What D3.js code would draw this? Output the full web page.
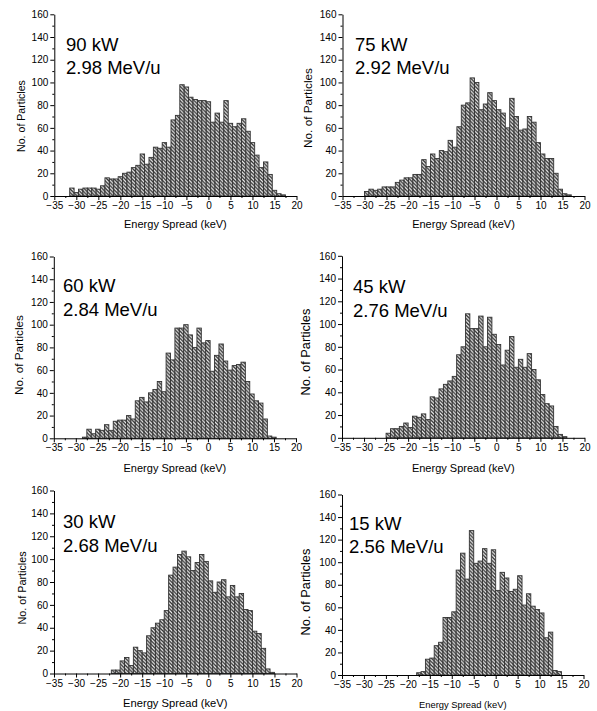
<!DOCTYPE html>
<html><head><meta charset="utf-8">
<script src="https://cdn.jsdelivr.net/npm/d3@7"></script>
<style>body{margin:0;background:#fff}svg{display:block;font-family:"Liberation Sans",Arial,sans-serif}</style>
</head><body><svg id="c" width="597" height="711"></svg>
<script>
// ---- data ----
const powers = ["90 kW", "75 kW", "60 kW", "45 kW", "30 kW", "15 kW"];
const energies = ["2.98 MeV/u", "2.92 MeV/u", "2.84 MeV/u", "2.76 MeV/u", "2.68 MeV/u", "2.56 MeV/u"];
const binWidth = 1; // keV
const binStarts = [-31.5, -30, -28.5, -25, -22, -18]; // left edge of first bin (keV)
const counts90 = [7,3,6,7,7,7,6,9,16,15,15,17,20,21,25,27,37,28,34,43,42,47,43,67,71,98,96,87,85,84,84,83,65,73,65,84,64,61,64,68,57,47,36,25,30,19,5,2,1];
const counts75 = [4,6,5,6,8,8,8,12,14,16,16,19,19,32,26,37,33,40,39,49,43,61,80,82,104,100,76,81,91,84,76,73,60,86,70,58,59,70,65,47,37,33,33,20,6,2,1];
const counts60 = [1,8,4,8,7,12,7,15,16,16,20,17,33,36,32,40,43,50,41,75,69,97,97,100,91,80,97,84,86,59,73,83,68,60,64,65,67,50,39,33,31,17,2,1];
const counts45 = [4,8,8,10,13,9,19,18,21,16,36,35,43,47,50,54,73,80,109,96,96,107,80,106,91,82,64,77,89,62,69,62,74,60,51,38,30,28,10,3,1];
const counts30 = [3,3,11,14,7,23,20,18,33,40,44,47,55,86,93,104,107,102,90,97,104,98,81,71,80,82,67,77,67,70,56,55,37,35,22,4,1];
const counts15 = [2,3,14,15,26,29,51,51,56,93,108,85,128,99,101,112,99,111,75,91,86,74,76,88,62,72,61,58,55,33,38,4,3];
const seriesCounts = [counts90, counts75, counts60, counts45, counts30, counts15];
const xTicks = [-35,-30,-25,-20,-15,-10,-5,0,5,10,15,20];
const yTicks = [0,20,40,60,80,100,120,140,160];
const xLabel = "Energy Spread (keV)";
const yLabel = "No. of Particles";

// ---- layout ----
const layouts = [
  {x0:54.3, x1:296.5, y0:196, y1:14.3, yl:{x:22, y:116, s:10.6}, xl:{y:228, s:11}, t:{x:66, y1:51, y2:74}},
  {x0:342.5, x1:584.5, y0:196, y1:14.3, yl:{x:309, y:108, s:11.8}, xl:{y:228, s:11}, t:{x:355, y1:51, y2:74}},
  {x0:53.8, x1:296, y0:438.3, y1:256.5, yl:{x:20, y:355, s:11.8}, xl:{y:472, s:11}, t:{x:63, y1:292, y2:316}},
  {x0:342, x1:584.5, y0:437.8, y1:255.8, yl:{x:307, y:352, s:12.8}, xl:{y:472, s:11}, t:{x:353, y1:293, y2:317}},
  {x0:54, x1:296.5, y0:673.5, y1:490.5, yl:{x:23, y:588, s:10.8}, xl:{y:707, s:11.2}, t:{x:63, y1:528, y2:552}},
  {x0:342, x1:583.5, y0:675, y1:494.5, yl:{x:307, y:592, s:12.8}, xl:{y:708, s:9.4}, t:{x:349, y1:530, y2:553}}
];

const svg = d3.select("#c");
const defs = svg.append("defs");
const pat = defs.append("pattern").attr("id","hatch").attr("patternUnits","userSpaceOnUse")
  .attr("width",3.6).attr("height",3.6);
pat.append("rect").attr("width",3.6).attr("height",3.6).attr("fill","#f4f4f4");
pat.append("path").attr("d","M-1,-1 L4.6,4.6 M-1,2.6 L1,4.6 M2.6,-1 L4.6,1")
  .attr("stroke","#2a2a2a").attr("stroke-width",1.3);

seriesCounts.forEach((counts, i) => {
  const L = layouts[i];
  const x = d3.scaleLinear().domain([-35, 20]).range([L.x0, L.x1]);
  const y = d3.scaleLinear().domain([0, 160]).range([L.y0, L.y1]);
  const g = svg.append("g");
  const bins = counts.map((c, k) => ({lo: binStarts[i] + k*binWidth, hi: binStarts[i] + (k+1)*binWidth, c}));

  g.selectAll("rect.bar").data(bins).enter().append("rect").attr("class","bar")
    .attr("x", d => x(d.lo)).attr("width", d => x(d.hi) - x(d.lo))
    .attr("y", d => y(d.c)).attr("height", d => y(0) - y(d.c))
    .attr("fill","url(#hatch)").attr("stroke","#333").attr("stroke-width",0.9);

  // x axis
  const xa = g.append("g").attr("transform",`translate(0,${L.y0})`)
    .call(d3.axisBottom(x).tickValues(xTicks).tickSize(4).tickPadding(2).tickSizeOuter(0));
  const xm = g.append("g").attr("transform",`translate(0,${L.y0})`)
    .call(d3.axisBottom(x).tickValues(d3.range(-32.5, 20, 5)).tickSize(2).tickFormat("").tickSizeOuter(0));
  xm.select(".domain").remove();
  // y axis
  const ya = g.append("g").attr("transform",`translate(${L.x0},0)`)
    .call(d3.axisLeft(y).tickValues(yTicks).tickSize(4).tickPadding(2).tickSizeOuter(0));
  const ym = g.append("g").attr("transform",`translate(${L.x0},0)`)
    .call(d3.axisLeft(y).tickValues(d3.range(10, 160, 20)).tickSize(2).tickFormat("").tickSizeOuter(0));
  ym.select(".domain").remove();
  [xa, ya, xm, ym].forEach(a => {
    a.selectAll("path,line").attr("stroke","#000").attr("stroke-width",1);
    a.selectAll("text").attr("font-family","Liberation Sans, Arial, sans-serif").attr("font-size",10).attr("fill","#000");
  });

  g.append("text").attr("x", (L.x0 + L.x1)/2).attr("y", L.xl.y).attr("text-anchor","middle")
    .attr("font-size", L.xl.s).text(xLabel);
  g.append("text").attr("transform",`translate(${L.yl.x},${L.yl.y}) rotate(-90)`)
    .attr("text-anchor","middle").attr("dominant-baseline","middle").attr("font-size", L.yl.s).text(yLabel);
  g.append("text").attr("x", L.t.x).attr("y", L.t.y1).attr("font-size",18.5).text(powers[i]);
  g.append("text").attr("x", L.t.x).attr("y", L.t.y2).attr("font-size",18.5).text(energies[i]);
});
</script></body></html>
